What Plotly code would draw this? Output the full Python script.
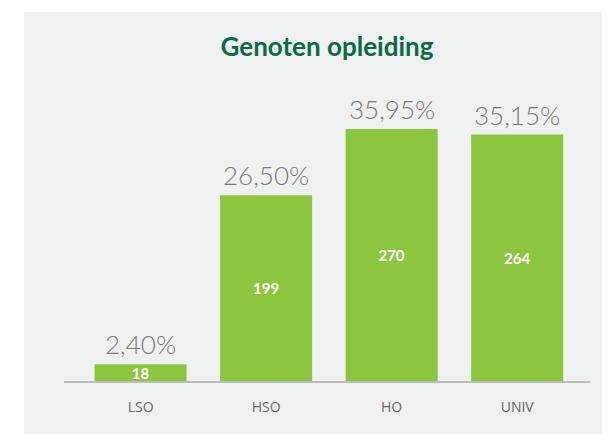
import plotly.graph_objects as go

categories = ["LSO", "HSO", "HO", "UNIV"]
counts = [18, 199, 270, 264]
percent_labels = ["2,40%", "26,50%", "35,95%", "35,15%"]

# page body has an 8px margin; the figure is sized/offset to compensate
OFF = 8
W, H = 602, 426
L, R, T, B = 64 - OFF, 20, 101 - OFF, 53
plot_w = W - L - R
plot_h = H - T - B

def px_x(px):
    return (px - OFF - L) / plot_w

def px_y(py):
    return (H - B - (py - OFF)) / plot_h

fig = go.Figure()
fig.add_trace(go.Bar(
    x=categories, y=counts,
    marker=dict(color="#8cc63f", line=dict(width=0)),
    text=[str(c) for c in counts],
    textposition="inside", insidetextanchor="middle",
    constraintext="none", textangle=0,
    textfont=dict(family="Lato", size=15, color="white", weight="bold"),
    hoverinfo="skip",
))

for c, v, p in zip(categories, counts, percent_labels):
    fig.add_annotation(x=c, y=v, text=p, showarrow=False, yanchor="bottom",
                       yshift=2, font=dict(family="Lato", size=26, color="#7a7a7a", weight=300))

fig.add_shape(type="rect", xref="paper", yref="paper",
              x0=px_x(24), x1=px_x(620), y0=px_y(440), y1=px_y(12),
              fillcolor="#eff0f0", line=dict(width=0), layer="below")

fig.update_layout(
    width=W, height=H,
    margin=dict(l=L, r=R, t=T, b=B),
    paper_bgcolor="white", plot_bgcolor="rgba(0,0,0,0)",
    title=dict(text="<b>Genoten opleiding</b>", x=px_x(327), xref="paper", xanchor="center",
               y=1 - (47 - OFF) / H, yref="container", yanchor="middle",
               font=dict(family="Lato", size=26, color="#0b6a45")),
    bargap=0.267,
    showlegend=False,
    xaxis=dict(range=[-0.61, 3.58], showline=True, linecolor="#bdbdbd", linewidth=1.5,
               showgrid=False, zeroline=False, ticks="", ticklabelstandoff=12,
               tickfont=dict(family="Open Sans", size=14, color="#666666", weight=400)),
    yaxis=dict(range=[0, 300], visible=False),
)

fig.write_html("out.html")
